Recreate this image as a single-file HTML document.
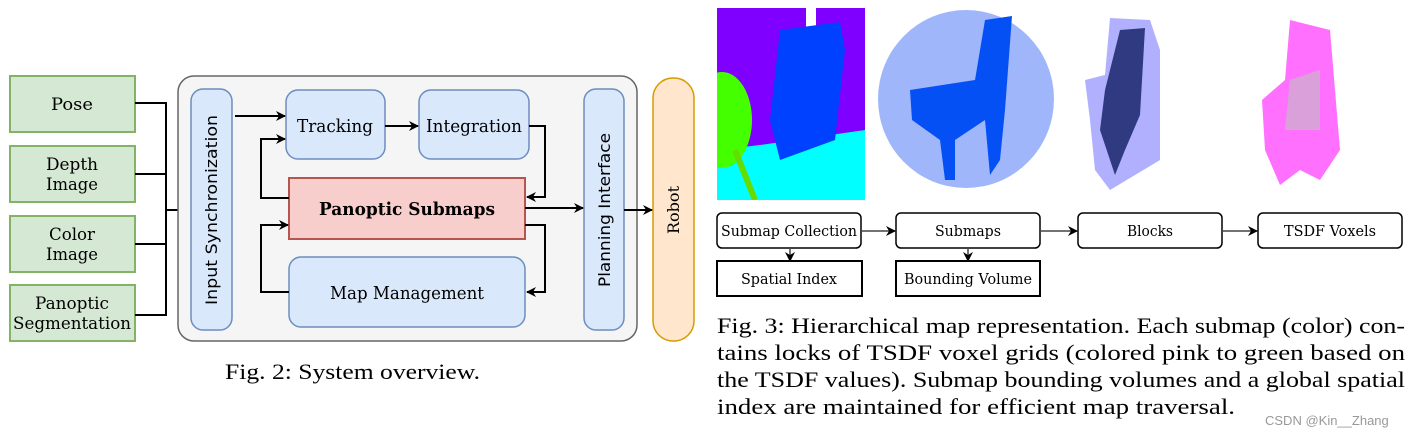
<!DOCTYPE html>
<html><head><meta charset="utf-8"><style>
body{margin:0;background:#fff;width:1424px;height:439px;overflow:hidden;}
</style></head><body>
<svg width="1424" height="439" viewBox="0 0 1424 439" xmlns="http://www.w3.org/2000/svg">
<defs>
<marker id="a" markerWidth="10" markerHeight="10" refX="9" refY="5" orient="auto" markerUnits="userSpaceOnUse"><path d="M0,0 L10,5 L0,10 L3,5 z" fill="#000"/></marker>
<clipPath id="c1"><rect x="717" y="8" width="148" height="192"/></clipPath>
</defs>
<!-- left inputs -->
<g fill="#d5e8d4" stroke="#82b366" stroke-width="2">
<rect x="10" y="76" width="125" height="56"/>
<rect x="10" y="146" width="125" height="56"/>
<rect x="10" y="216" width="125" height="56"/>
<rect x="10" y="285" width="125" height="56"/>
</g>
<g font-family="DejaVu Serif, Liberation Serif, serif" font-size="17" text-anchor="middle" fill="#000">
<text x="72" y="110" textLength="42" lengthAdjust="spacingAndGlyphs">Pose</text>
<text x="72" y="170" textLength="52" lengthAdjust="spacingAndGlyphs">Depth</text><text x="72" y="190" textLength="52" lengthAdjust="spacingAndGlyphs">Image</text>
<text x="72" y="240" textLength="46" lengthAdjust="spacingAndGlyphs">Color</text><text x="72" y="260" textLength="52" lengthAdjust="spacingAndGlyphs">Image</text>
<text x="72" y="309" textLength="74" lengthAdjust="spacingAndGlyphs">Panoptic</text><text x="72" y="329" textLength="118" lengthAdjust="spacingAndGlyphs">Segmentation</text>
</g>
<g stroke="#000" stroke-width="2" fill="none">
<path d="M135 103H166V315H135M135 174H166M135 244H166"/>
<path d="M166 210H190" marker-end="url(#a)"/>
</g>
<rect x="178" y="76" width="459" height="265" rx="16" fill="#f5f5f5" stroke="#666" stroke-width="1.5"/>
<g fill="#dae8fc" stroke="#6c8ebf" stroke-width="1.5">
<rect x="191" y="89" width="41" height="241" rx="12"/>
<rect x="286" y="90" width="99" height="69" rx="12"/>
<rect x="419" y="90" width="110" height="69" rx="12"/>
<rect x="289" y="257" width="236" height="70" rx="12"/>
<rect x="584" y="89" width="40" height="241" rx="12"/>
</g>
<rect x="289" y="178" width="236" height="61" fill="#f8cecc" stroke="#b85450" stroke-width="2"/>
<rect x="653" y="78" width="41" height="263" rx="20" fill="#ffe6cc" stroke="#d79b00" stroke-width="1.5"/>
<g stroke="#000" stroke-width="2" fill="none">
<path d="M235 116H285" marker-end="url(#a)"/>
<path d="M385 126H418" marker-end="url(#a)"/>
<path d="M529 126H545V197H527" marker-end="url(#a)"/>
<path d="M289 198H261V139H285" marker-end="url(#a)"/>
<path d="M525 208H583" marker-end="url(#a)"/>
<path d="M525 225H545V292H527" marker-end="url(#a)"/>
<path d="M289 292H261V225H288" marker-end="url(#a)"/>
<path d="M624 210H652" marker-end="url(#a)"/>
</g>
<g font-family="DejaVu Serif, Liberation Serif, serif" font-size="18" text-anchor="middle" fill="#000">
<text x="335" y="132" textLength="76" lengthAdjust="spacingAndGlyphs">Tracking</text>
<text x="474" y="132" textLength="96" lengthAdjust="spacingAndGlyphs">Integration</text>
<text x="407" y="299" textLength="154" lengthAdjust="spacingAndGlyphs">Map Management</text>
<text x="407" y="215" font-weight="bold" textLength="176" lengthAdjust="spacingAndGlyphs">Panoptic Submaps</text>
<text transform="translate(217,210) rotate(-90)" font-family="DejaVu Sans, sans-serif" font-size="16" textLength="190" lengthAdjust="spacingAndGlyphs">Input Synchronization</text>
<text transform="translate(610,210) rotate(-90)" font-family="DejaVu Sans, sans-serif" font-size="16" textLength="154" lengthAdjust="spacingAndGlyphs">Planning Interface</text>
<text transform="translate(679,210) rotate(-90)" font-size="16" textLength="48" lengthAdjust="spacingAndGlyphs">Robot</text>
</g>
<text x="225" y="379" font-size="22" font-family="Liberation Serif, serif" textLength="255" lengthAdjust="spacingAndGlyphs">Fig. 2: System overview.</text>
<!-- images -->
<g clip-path="url(#c1)">
<rect x="717" y="8" width="148" height="192" fill="#8000ff"/>
<rect x="806" y="8" width="10" height="50" fill="#fff"/>
<polygon points="717,200 717,150 760,145 865,130 865,200" fill="#00ffff"/>
<path d="M780 30 L840 22 L845 50 L835 140 L780 160 L770 120 Z" fill="#0040ff"/>
<ellipse cx="722" cy="120" rx="30" ry="48" fill="#44ff00"/>
<path d="M735 150 L755 200" stroke="#66dd00" stroke-width="6"/>
</g>
<ellipse cx="966" cy="99" rx="88" ry="89" fill="#9fb6fb"/>
<path d="M985 20 L1012 16 L1005 110 L1000 160 L990 175 L985 120 L955 140 L955 180 L945 180 L940 140 L912 120 L910 90 L975 80 Z" fill="#0550f5"/>
<path d="M1110 18 L1150 20 L1160 50 L1160 160 L1110 190 L1095 170 L1090 120 L1085 80 L1105 75 Z" fill="#7070ff" opacity="0.55"/>
<path d="M1120 30 L1145 28 L1140 115 L1125 150 L1115 175 L1100 130 L1105 90 Z" fill="#303a80"/>
<path d="M1290 20 L1330 30 L1340 150 L1320 180 L1300 170 L1280 185 L1265 150 L1262 100 L1285 80 Z" fill="#ff40ff" opacity="0.75"/>
<path d="M1290 80 L1320 70 L1320 130 L1285 130 Z" fill="#c0c0c0" opacity="0.6"/>
<!-- hierarchy -->
<g fill="#fff" stroke="#000" stroke-width="1.5">
<rect x="717" y="213" width="144" height="35" rx="5"/>
<rect x="896" y="213" width="144" height="35" rx="5"/>
<rect x="1078" y="213" width="144" height="35" rx="5"/>
<rect x="1258" y="213" width="144" height="35" rx="5"/>
<rect x="717" y="261" width="145" height="35" stroke-width="2"/>
<rect x="896" y="261" width="144" height="35" stroke-width="2"/>
</g>
<g stroke="#444" stroke-width="1.5" fill="none">
<path d="M861 231H895" marker-end="url(#a)"/>
<path d="M1040 231H1077" marker-end="url(#a)"/>
<path d="M1222 231H1257" marker-end="url(#a)"/>
<path d="M790 248V261" marker-end="url(#a)"/>
<path d="M968 248V261" marker-end="url(#a)"/>
</g>
<g font-family="DejaVu Serif, Liberation Serif, serif" font-size="15" text-anchor="middle" fill="#000">
<text x="789" y="236" textLength="136" lengthAdjust="spacingAndGlyphs">Submap Collection</text>
<text x="968" y="236" textLength="66" lengthAdjust="spacingAndGlyphs">Submaps</text>
<text x="1150" y="236" textLength="46" lengthAdjust="spacingAndGlyphs">Blocks</text>
<text x="1330" y="236" textLength="92" lengthAdjust="spacingAndGlyphs">TSDF Voxels</text>
<text x="789" y="284" textLength="96" lengthAdjust="spacingAndGlyphs">Spatial Index</text>
<text x="968" y="284" textLength="128" lengthAdjust="spacingAndGlyphs">Bounding Volume</text>
</g>
<g font-size="22" font-family="Liberation Serif, serif" fill="#000">
<text x="717" y="333" textLength="688" lengthAdjust="spacingAndGlyphs">Fig. 3: Hierarchical map representation. Each submap (color) con-</text>
<text x="717" y="360" textLength="688" lengthAdjust="spacingAndGlyphs">tains locks of TSDF voxel grids (colored pink to green based on</text>
<text x="717" y="387" textLength="688" lengthAdjust="spacingAndGlyphs">the TSDF values). Submap bounding volumes and a global spatial</text>
<text x="717" y="414" textLength="518" lengthAdjust="spacingAndGlyphs">index are maintained for efficient map traversal.</text>
</g>
<text x="1265" y="425" font-size="13" fill="#999" font-family="Liberation Sans, sans-serif">CSDN @Kin__Zhang</text>
</svg>
</body></html>
